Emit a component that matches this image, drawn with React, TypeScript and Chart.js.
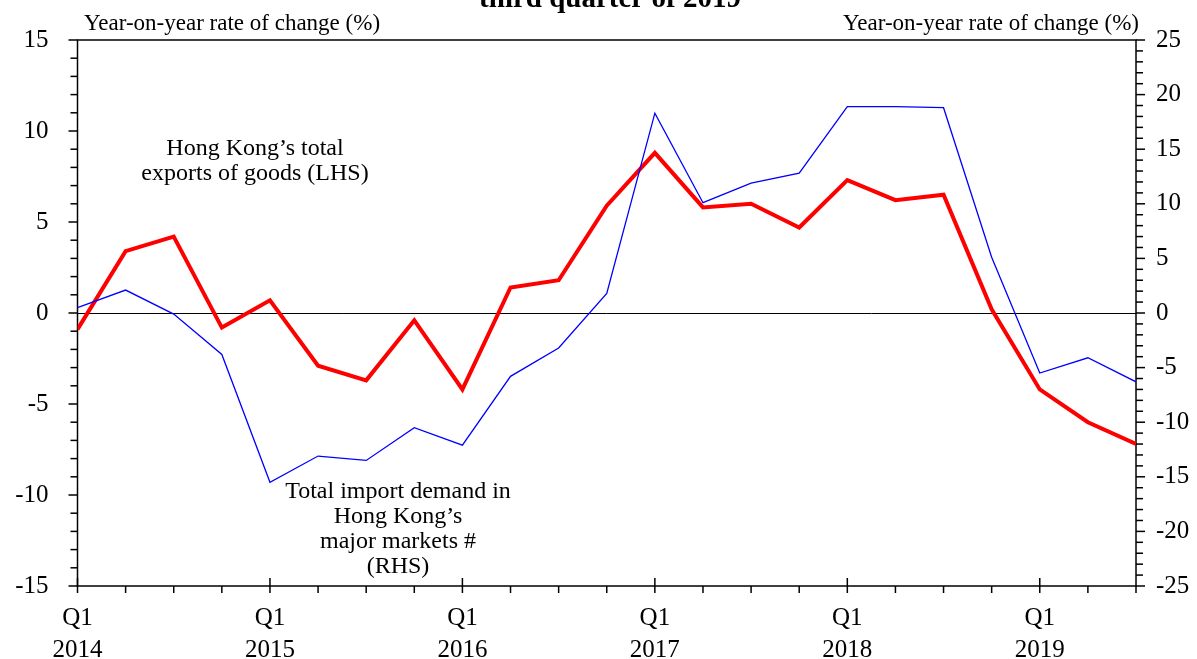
import { useEffect, useRef } from 'react';
import { Chart, registerables } from 'chart.js';

Chart.register(...registerables);

// ---- data ----
const quarters = [
  'Q1 2014', 'Q2 2014', 'Q3 2014', 'Q4 2014',
  'Q1 2015', 'Q2 2015', 'Q3 2015', 'Q4 2015',
  'Q1 2016', 'Q2 2016', 'Q3 2016', 'Q4 2016',
  'Q1 2017', 'Q2 2017', 'Q3 2017', 'Q4 2017',
  'Q1 2018', 'Q2 2018', 'Q3 2018', 'Q4 2018',
  'Q1 2019', 'Q2 2019', 'Q3 2019',
];

// Hong Kong's total exports of goods (LHS), % yoy
const hkExports = [
  -0.9, 3.4, 4.2, -0.8,
  0.7, -2.9, -3.7, -0.4,
  -4.2, 1.4, 1.8, 5.9,
  8.8, 5.8, 6.0, 4.7,
  7.3, 6.2, 6.5, 0.2,
  -4.2, -6.0, -7.2,
];

// Total import demand in Hong Kong's major markets (RHS), % yoy
const importDemand = [
  0.5, 2.1, -0.1, -3.8,
  -15.5, -13.1, -13.5, -10.5,
  -12.1, -5.8, -3.2, 1.8,
  18.3, 10.1, 11.9, 12.8,
  18.9, 18.9, 18.8, 5.1,
  -5.5, -4.1, -6.3,
];

const leftRange = [-15, 15];
const rightRange = [-25, 25];

const titleText = 'third quarter of 2019';
const axisTitle = 'Year-on-year rate of change (%)';
const exportsNote = ['Hong Kong\u2019s total', 'exports of goods (LHS)'];
const importNote = ['Total import demand in', 'Hong Kong\u2019s', 'major markets #', '(RHS)'];

const SERIF = '"Liberation Serif", "Times New Roman", serif';

const decorPlugin = {
  id: 'decor',
  beforeDatasetsDraw(chart: any) {
    const { ctx, chartArea: a, scales } = chart;
    const yL = scales.y;
    ctx.save();
    ctx.strokeStyle = '#000';
    // zero line
    ctx.lineWidth = 1;
    const z = Math.round(yL.getPixelForValue(0)) + 0.5;
    ctx.beginPath();
    ctx.moveTo(a.left, z);
    ctx.lineTo(a.right, z);
    ctx.stroke();
    // frame
    ctx.lineWidth = 1.5;
    ctx.strokeRect(a.left, a.top, a.right - a.left, a.bottom - a.top);
    ctx.restore();
  },
  afterDraw(chart: any) {
    const { ctx, chartArea: a, scales } = chart;
    const x = scales.x;
    const yL = scales.y;
    const yR = scales.y1;
    ctx.save();
    ctx.strokeStyle = '#000';
    ctx.lineWidth = 1.5;
    // x ticks
    for (let i = 0; i < quarters.length; i++) {
      const px = x.getPixelForValue(i);
      ctx.beginPath();
      if (quarters[i].startsWith('Q1')) {
        ctx.moveTo(px, a.bottom - 8);
        ctx.lineTo(px, a.bottom + 7);
      } else {
        ctx.moveTo(px, a.bottom);
        ctx.lineTo(px, a.bottom + 7);
      }
      ctx.stroke();
    }
    // left ticks
    for (let v = leftRange[0]; v <= leftRange[1]; v++) {
      const py = yL.getPixelForValue(v);
      const len = v % 5 === 0 ? 9 : 7;
      ctx.beginPath();
      ctx.moveTo(a.left - len, py);
      ctx.lineTo(a.left, py);
      ctx.stroke();
    }
    // right ticks
    for (let v = rightRange[0]; v <= rightRange[1]; v++) {
      const py = yR.getPixelForValue(v);
      const len = v % 5 === 0 ? 9 : 7;
      ctx.beginPath();
      ctx.moveTo(a.right, py);
      ctx.lineTo(a.right + len, py);
      ctx.stroke();
    }
    // texts
    ctx.fillStyle = '#000';
    ctx.textBaseline = 'alphabetic';
    ctx.font = `bold 29px ${SERIF}`;
    ctx.textAlign = 'center';
    ctx.fillText(titleText, 610, 7);

    ctx.font = `23px ${SERIF}`;
    ctx.textAlign = 'left';
    ctx.fillText(axisTitle, 84, 30);
    ctx.textAlign = 'right';
    ctx.fillText(axisTitle, 1139, 30);

    ctx.font = `24px ${SERIF}`;
    ctx.textAlign = 'center';
    exportsNote.forEach((t, i) => ctx.fillText(t, 255, 155 + i * 25));
    importNote.forEach((t, i) => ctx.fillText(t, 398, 498 + i * 25));
    ctx.restore();
  },
};

export default function App() {
  const ref = useRef<HTMLCanvasElement>(null);

  useEffect(() => {
    const canvas = ref.current;
    if (!canvas) return;
    const chart = new Chart(canvas, {
      type: 'line',
      data: {
        labels: quarters,
        datasets: [
          {
            label: 'Total import demand in Hong Kong\u2019s major markets (RHS)',
            data: importDemand,
            yAxisID: 'y1',
            borderColor: '#0000ff',
            borderWidth: 1.3,
            pointRadius: 0,
            tension: 0,
            fill: false,
            clip: 0,
          },
          {
            label: 'Hong Kong\u2019s total exports of goods (LHS)',
            data: hkExports,
            yAxisID: 'y',
            borderColor: '#ff0000',
            borderWidth: 4,
            pointRadius: 0,
            tension: 0,
            fill: false,
            clip: 0,
          },
        ],
      },
      options: {
        responsive: false,
        animation: false,
        events: [],
        layout: { padding: { top: 40, left: 0, right: 0, bottom: 0 } },
        plugins: {
          legend: { display: false },
          tooltip: { enabled: false },
          title: { display: false },
        },
        scales: {
          x: {
            type: 'category',
            position: 'bottom',
            offset: false,
            grid: { display: false, drawTicks: false },
            border: { display: false },
            afterFit: (s: any) => {
              s.height = 73;
              s.paddingLeft = 0;
              s.paddingRight = 0;
            },
            ticks: {
              autoSkip: false,
              maxRotation: 0,
              minRotation: 0,
              padding: 16,
              color: '#000',
              font: { family: SERIF, size: 25, lineHeight: 1.28 },
              callback: (_v: any, i: number) => {
                const [q, yr] = quarters[i].split(' ');
                return q === 'Q1' ? [q, yr] : '';
              },
            },
          },
          y: {
            position: 'left',
            min: leftRange[0],
            max: leftRange[1],
            grid: { display: false, drawTicks: false },
            border: { display: false },
            afterFit: (s: any) => {
              s.width = 77.5;
              s.paddingTop = 0;
              s.paddingBottom = 0;
            },
            ticks: {
              stepSize: 5,
              padding: 29,
              color: '#000',
              font: { family: SERIF, size: 25 },
            },
          },
          y1: {
            position: 'right',
            min: rightRange[0],
            max: rightRange[1],
            grid: { display: false, drawTicks: false },
            border: { display: false },
            afterFit: (s: any) => {
              s.width = 61;
              s.paddingTop = 0;
              s.paddingBottom = 0;
            },
            ticks: {
              stepSize: 5,
              padding: 20,
              color: '#000',
              font: { family: SERIF, size: 25 },
            },
          },
        },
      },
      plugins: [decorPlugin],
    });
    return () => chart.destroy();
  }, []);

  return (
    <div style={{ position: 'absolute', left: 0, top: 0, width: 1197, height: 659, background: '#fff' }}>
      <canvas ref={ref} width={1197} height={659} style={{ display: 'block' }} />
    </div>
  );
}
